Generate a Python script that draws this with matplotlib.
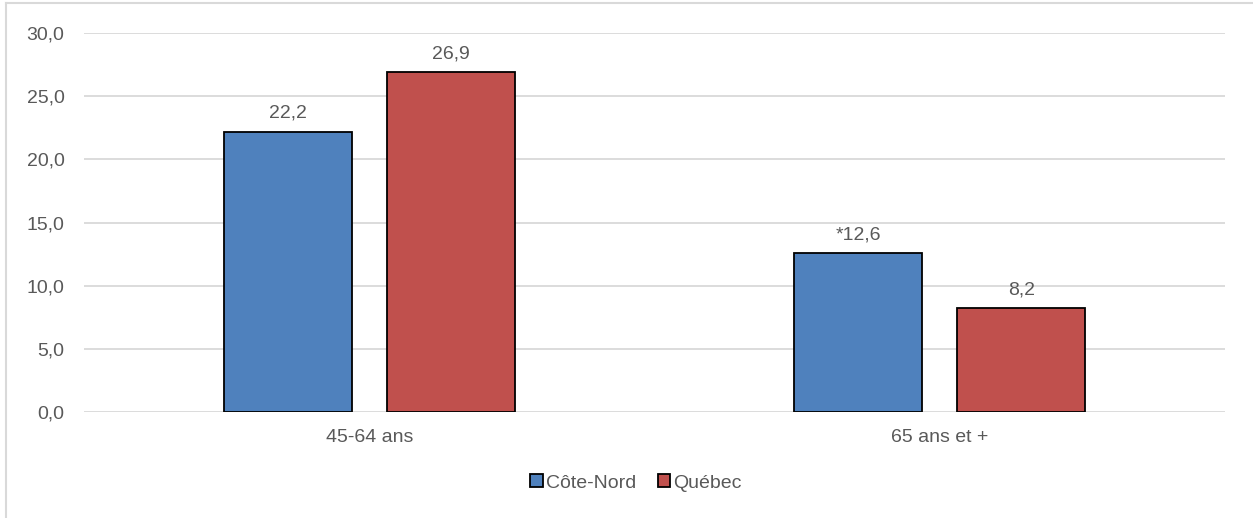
import matplotlib.pyplot as plt
from matplotlib.lines import Line2D
import numpy as np

plt.rcParams['font.family'] = ['Liberation Sans', 'DejaVu Sans']

# Data
categories = ['45-64 ans', '65 ans et +']
cote_nord = [22.2, 12.6]
quebec = [26.9, 8.2]
cote_nord_labels = ['22,2', '*12,6']
quebec_labels = ['26,9', '8,2']
yticks = [0, 5, 10, 15, 20, 25, 30]

BLUE = '#4F81BD'
RED = '#C0504D'
TEXT = '#595959'
GRID = '#D9D9D9'
FS = 14

W, H = 1253, 518
fig = plt.figure(figsize=(W / 100, H / 100), dpi=100)
ax = fig.add_axes([84 / W, 1 - 412 / H, (1225 - 84) / W, (412 - 33) / H])

x = np.arange(len(categories))
bw = 0.224
off = 0.143
b1 = ax.bar(x - off, cote_nord, bw, color=BLUE, edgecolor='black', linewidth=1.3,
            label='Côte-Nord', zorder=3)
b2 = ax.bar(x + off, quebec, bw, color=RED, edgecolor='black', linewidth=1.3,
            label='Québec', zorder=3)

for bars, labels in ((b1, cote_nord_labels), (b2, quebec_labels)):
    for rect, lab in zip(bars, labels):
        ax.annotate(lab, (rect.get_x() + rect.get_width() / 2, rect.get_height()),
                    xytext=(0, 7), textcoords='offset points', ha='center', va='bottom',
                    fontsize=FS, color=TEXT)

ax.set_xlim(-0.5, len(categories) - 0.5)
ax.set_ylim(0, 30)
ax.set_yticks(yticks)
ax.set_yticklabels([f'{v:.1f}'.replace('.', ',') for v in yticks])
ax.set_xticks(x)
ax.set_xticklabels(categories)
ax.tick_params(axis='both', length=0, labelsize=FS, labelcolor=TEXT)
ax.tick_params(axis='y', pad=14)
ax.tick_params(axis='x', pad=12)
ax.yaxis.grid(True, color=GRID, linewidth=1.3, zorder=0)
ax.set_axisbelow(True)
for s in ax.spines.values():
    s.set_visible(False)

leg = fig.legend(handles=[b1, b2], loc='center', bbox_to_anchor=(636 / W, 1 - 483 / H),
                 ncol=2, frameon=False, fontsize=FS, handlelength=0.65, handleheight=0.65,
                 handletextpad=0.15, columnspacing=1.1, labelcolor=TEXT)

# chart area border
fig.add_artist(Line2D([6 / W, 6 / W], [0, 1 - 3 / H], color=GRID, linewidth=1.5))
fig.add_artist(Line2D([6 / W, 1], [1 - 3 / H, 1 - 3 / H], color=GRID, linewidth=1.5))

fig.savefig('out.png', dpi=100)
